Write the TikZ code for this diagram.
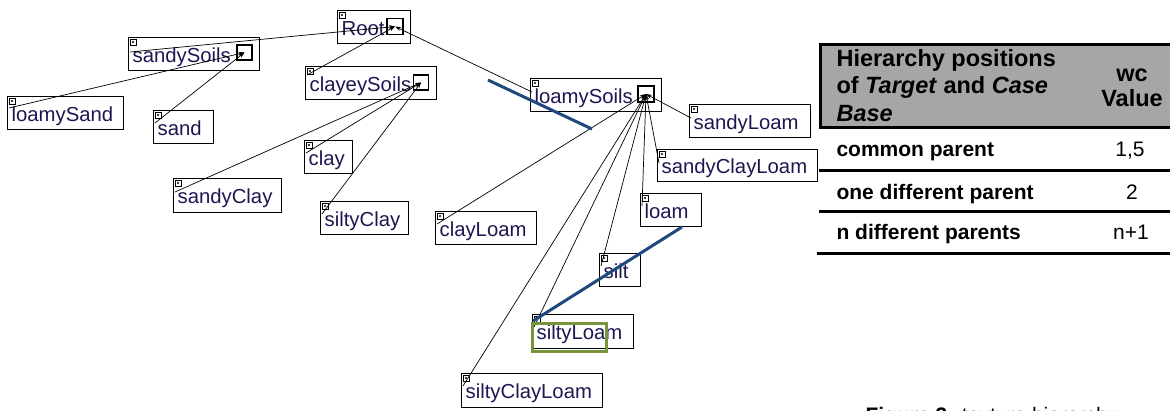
\documentclass[tikz,border=0pt]{standalone}
\usepackage{fontspec}
\newfontfamily\lsans{Liberation Sans}
\usetikzlibrary{calc,arrows.meta}
\definecolor{navy}{RGB}{30,22,80}
\definecolor{hdrgray}{RGB}{166,166,166}
\definecolor{blueline}{RGB}{31,73,125}
\definecolor{olive}{RGB}{119,147,60}
\newcommand{\lb}[2]{\makebox[#1pt][l]{#2}}
\tikzset{
  box/.style={draw, line width=1.3, anchor=north west, inner xsep=4, inner ysep=0,
    minimum height=33, text height=18, text depth=2,
    font=\lsans\fontsize{20.3}{23}\selectfont, text=navy},
  isq/.style={draw, line width=1.3, minimum size=15, inner sep=0},
  edge/.style={line width=0.7, -{Stealth[length=6,width=4]}},
  corner/.style={line width=0.8},
  hl/.style={line width=3, color=blueline},
  tbl/.style={font=\lsans\bfseries\fontsize{23.5}{27}\selectfont, anchor=base west},
  rowtxt/.style={font=\lsans\bfseries\fontsize{21}{25}\selectfont, anchor=base west},
  valtxt/.style={font=\lsans\fontsize{21}{25}\selectfont, anchor=base},
  rule/.style={line width=3},
}
\begin{document}
\begin{tikzpicture}[x=1pt,y=-1pt]
\useasboundingbox (0,0) rectangle (1170,410);
\clip (0,0) rectangle (1170,410);
% boxes
\node[box] (root) at (337,10) {\lb{65}{Root}};
\node[box] (sandySoils) at (128,37) {\lb{123}{sandySoils}};
\node[box] (loamySand) at (7,96) {\lb{108}{loamySand}};
\node[box] (sand) at (153,110) {\lb{52}{sand}};
\node[box] (clayeySoils) at (305,66) {\lb{123}{clayeySoils}};
\node[box] (loamySoils) at (530,78) {\lb{123}{loamySoils}};
\node[box] (sandyLoam) at (689,104) {\lb{113}{sandyLoam}};
\node[box, minimum height=32] (sandyClayLoam) at (657,149) {\lb{152}{sandyClayLoam}};
\node[box] (clay) at (304,140) {\lb{40}{clay}};
\node[box, minimum height=34] (sandyClay) at (173,178) {\lb{100}{sandyClay}};
\node[box] (siltyClay) at (320,201) {\lb{80}{siltyClay}};
\node[box] (clayLoam) at (435,211) {\lb{93}{clayLoam}};
\node[box] (loam) at (640,193) {\lb{53}{loam}};
\node[box] (silt) at (599,253) {\lb{33}{silt}};
\node[box, minimum height=34] (siltyLoam) at (532,314) {\lb{93}{siltyLoam}};
\node[box, minimum height=34] (siltyClayLoam) at (461,373) {\lb{133}{siltyClayLoam}};
% inner squares
\node[isq, minimum size=16] (rootS) at (395,26.5) {};
\node[isq] (sandySoilsS) at (244.5,52.5) {};
\node[isq] (clayeySoilsS) at (421,82.5) {};
\node[isq, minimum size=16] (loamySoilsS) at (646,94) {};
% corner squares
\foreach \n in {root,sandySoils,loamySand,sand,clayeySoils,loamySoils,sandyLoam,sandyClayLoam,clay,sandyClay,siltyClay,clayLoam,loam,silt,siltyLoam,siltyClayLoam}{
  \draw[corner] ($(\n.north west)+(2,2)$) rectangle ++(6,6);
  \fill ($(\n.north west)+(5,5)$) circle (1.2);
}
% edges
\draw[edge] ($(sandySoils.north west)+(2,15)$) -- (rootS.center);
\draw[edge] ($(clayeySoils.north west)+(2,9)$) -- (rootS.center);
\draw[edge] ($(loamySoils.north west)+(2,14)$) -- (rootS.center);
\draw[edge] ($(loamySand.north west)+(2,12)$) -- (sandySoilsS.center);
\draw[edge] ($(sand.north west)+(2,13)$) -- (sandySoilsS.center);
\draw[edge] ($(sandyClay.north west)+(2,14)$) -- (clayeySoilsS.center);
\draw[edge] ($(clay.north west)+(2,13)$) -- (clayeySoilsS.center);
\draw[edge] ($(siltyClay.north west)+(2,13)$) -- (clayeySoilsS.center);
\draw[edge] ($(sandyLoam.north west)+(2,14)$) -- (loamySoilsS.center);
\draw[edge] ($(sandyClayLoam.north west)+(2,14)$) -- (loamySoilsS.center);
\draw[edge] ($(clayLoam.north west)+(2,13)$) -- (loamySoilsS.center);
\draw[edge] ($(loam.north west)+(2,13)$) -- (loamySoilsS.center);
\draw[edge] ($(silt.north west)+(2,13)$) -- (loamySoilsS.center);
\draw[edge] ($(siltyLoam.north west)+(2,13)$) -- (loamySoilsS.center);
\draw[edge] ($(siltyClayLoam.north west)+(2,13)$) -- (loamySoilsS.center);
% highlight
\node[draw=olive, line width=3, minimum width=74, minimum height=28, inner sep=0, anchor=north west] (hlbox) at (531,322) {};
\coordinate (b1s) at (488,80);
\coordinate (b1e) at (592,129);
\coordinate (b2s) at (682,227);
\coordinate (b2e) at (533,321);
\draw[hl] (b1s) -- (b1e);
\draw[hl] (b2s) -- (b2e);
% table
\draw[rule, fill=hdrgray] (820,44) rectangle (1185,127);
\node[tbl] (h1) at (833,66) {Hierarchy positions};
\node[tbl] (h2) at (833,93) {of \textit{Target} and \textit{Case}};
\node[tbl] (h3) at (833,121) {\textit{Base}};
\node[tbl, anchor=base] (h4) at (1132,81) {wc};
\node[tbl, anchor=base] (h5) at (1132,106) {Value};
\node[rowtxt] (r1) at (833,156) {common parent};
\node[valtxt] (v1) at (1130,156) {1,5};
\draw[rule] (819,170) -- (1175,170);
\node[rowtxt] (r2) at (833,199) {one different parent};
\node[valtxt] (v2) at (1132,199) {2};
\draw[rule] (819,211) -- (1175,211);
\node[rowtxt] (r3) at (833,239) {n different parents};
\node[valtxt] (v3) at (1131,239) {n+1};
\draw[rule] (817,253) -- (1175,253);
% caption (cut off at the bottom edge, as in the reference)
\node[anchor=base west, font=\lsans\fontsize{21}{24}\selectfont] (cap) at (862,422) {\textbf{Figure 3:} texture hierarchy};
\end{tikzpicture}
\end{document}
